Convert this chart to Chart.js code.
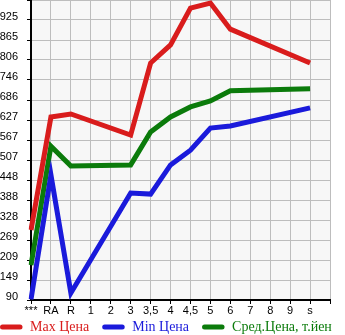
<!DOCTYPE html>
<html>
<head>
<meta charset="utf-8">
<script src="https://cdn.jsdelivr.net/npm/chart.js@4.4.0/dist/chart.umd.min.js"></script>
<style>
  body { margin: 0; background: #fff; }
</style>
</head>
<body>
<canvas id="myChart" width="345" height="335"></canvas>
<script>
const labels = ["***", "RA", "R", "1", "2", "3", "3,5", "4", "4,5", "5", "6", "7", "8", "9", "s", ""];
const maxPrice = [299, 636, 645, null, null, 582, 797, 851, 961, 976, 898, null, null, null, 797];
const minPrice = [92, 463, 111, null, null, 409, 406, 493, 537, 603, 609, null, null, null, 663];
const avgPrice = [194, 549, 490, null, null, 493, 591, 636, 666, 684, 714, null, null, null, 720];
const yTickLabels = ["90", "149", "209", "269", "328", "388", "448", "507", "567", "627", "686", "746", "806", "865", "925", ""];
const yMin = 90;
const yMax = 985;

const RED = "#d91c1c";
const BLUE = "#1a1adb";
const GREEN = "#0b7b0b";

// light plot background, painted behind whatever is already drawn
const plotBackground = {
    id: "plotBackground",
    afterDraw(chart) {
        const { ctx, chartArea } = chart;
        ctx.save();
        ctx.globalCompositeOperation = "destination-over";
        ctx.fillStyle = "#f7f7f7";
        ctx.fillRect(chartArea.left, chartArea.top,
            chartArea.right - chartArea.left, chartArea.bottom - chartArea.top);
        ctx.restore();
    },
};

// legend row along the bottom edge: thick rounded swatch + coloured text
const bottomLegend = {
    id: "bottomLegend",
    afterDraw(chart) {
        const { ctx } = chart;
        const y = chart.height - 8;
        let x = 0;
        ctx.save();
        ctx.font = "14px 'Liberation Serif'";
        ctx.textBaseline = "middle";
        ctx.lineCap = "round";
        ctx.lineWidth = 5;
        chart.data.datasets.forEach((ds) => {
            ctx.strokeStyle = ds.borderColor;
            ctx.beginPath();
            ctx.moveTo(x + 2.5, y);
            ctx.lineTo(x + 20, y);
            ctx.stroke();
            ctx.fillStyle = ds.borderColor;
            ctx.fillText(ds.label, x + 30, y);
            x += 30 + ctx.measureText(ds.label).width + 13;
        });
        ctx.restore();
    },
};

function main() {
    const ctx = document.getElementById("myChart");

    new Chart(ctx, {
        type: "line",
        data: {
            labels: labels,
            datasets: [
                { label: "Max Цена", data: maxPrice, borderColor: RED, backgroundColor: RED },
                { label: "Min Цена", data: minPrice, borderColor: BLUE, backgroundColor: BLUE },
                { label: "Сред.Цена, т.йен", data: avgPrice, borderColor: GREEN, backgroundColor: GREEN },
            ],
        },
        plugins: [plotBackground, bottomLegend],
        options: {
            responsive: false,
            animation: false,
            spanGaps: true,
            layout: { padding: { left: 0, right: 0, top: 0, bottom: 17 } },
            elements: {
                line: { borderWidth: 5, tension: 0, borderJoinStyle: "miter" },
                point: { radius: 0, hoverRadius: 0 },
            },
            plugins: {
                tooltip: { enabled: false },
                legend: { display: false },
            },
            scales: {
                x: {
                    offset: false,
                    grid: { color: "#bdbdbd", lineWidth: 1, tickColor: "#000", tickLength: 4 },
                    border: { color: "#000", width: 2 },
                    ticks: {
                        autoSkip: false,
                        maxRotation: 0,
                        padding: 0,
                        color: "#000",
                        font: { family: "Liberation Sans", size: 11 },
                    },
                    afterFit(scale) {
                        scale.height = 18;
                        scale.paddingLeft = 0;
                        scale.paddingRight = 0;
                    },
                },
                y: {
                    min: yMin,
                    max: yMax,
                    afterBuildTicks(axis) {
                        axis.ticks = yTickLabels.map((_, i) => ({
                            value: yMin + i * (yMax - yMin) / (yTickLabels.length - 1),
                        }));
                    },
                    grid: { color: "#bdbdbd", lineWidth: 1, tickColor: "#000", tickLength: 4 },
                    border: { color: "#000", width: 2 },
                    ticks: {
                        autoSkip: false,
                        padding: 9,
                        labelOffset: -3,
                        color: "#000",
                        font: { family: "Liberation Sans", size: 11 },
                        callback: (value, index) => yTickLabels[index],
                    },
                    afterFit(scale) {
                        scale.width = 31;
                        scale.paddingTop = 0;
                        scale.paddingBottom = 0;
                    },
                },
                // empty strip on the right of the plot
                spacer: {
                    type: "linear",
                    position: "right",
                    display: true,
                    grid: { display: false, drawTicks: false },
                    border: { display: false },
                    ticks: { display: false },
                    afterFit(scale) {
                        scale.width = 15;
                        scale.paddingTop = 0;
                        scale.paddingBottom = 0;
                    },
                },
            },
        },
    });
}

main();
</script>
</body>
</html>
